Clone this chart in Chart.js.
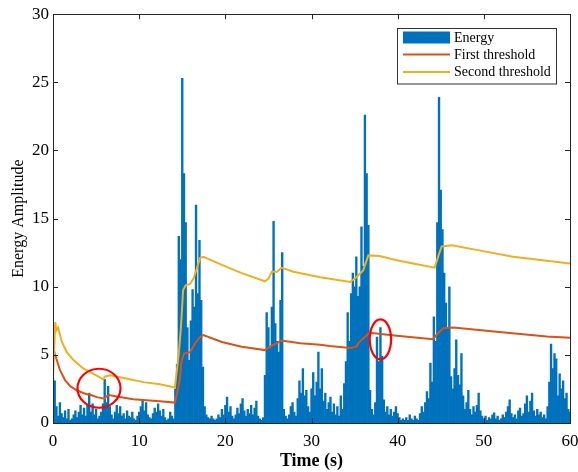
<!DOCTYPE html>
<html><head><meta charset="utf-8">
<script src="https://cdn.jsdelivr.net/npm/chart.js@4.4.1/dist/chart.umd.min.js"></script>
<style>html,body{margin:0;padding:0;background:#fff;}</style>
</head><body>
<canvas id="c" width="578" height="472" style="display:block;width:578px;height:472px"></canvas>
<script>
// ---- data ----
const sampleStep = 0.2; // seconds between energy samples, starting at t = 0
const energy = [
 3.3,3.1,1.2,0.5,1.5,   0.7,0.4,0.9,0.3,1.0,   0.2,0.3,0.6,0.9,0.4,   0.8,1.3,0.6,1.1,0.5,
 1.3,2.1,0.8,1.4,0.6,   1.0,0.3,0.5,0.8,1.4,   3.2,1.5,2.7,1.2,0.6,   0.3,0.8,1.3,0.7,1.2,
 0.5,0.7,0.3,0.9,0.5,   0.4,0.8,0.3,0.2,0.5,   0.8,1.2,1.7,0.9,1.5,   0.6,0.4,0.3,0.7,1.1,
 0.8,1.4,0.9,0.5,1.0,   0.4,0.2,0.3,0.8,0.5,   0.3,2.5,4.3,13.7,12.0, 25.3,18.3,14.7,7.0,4.6,
 7.5,9.8,8.5,16.0,9.5,  13.4,9.0,4.1,1.2,0.6,  0.4,0.3,0.5,0.3,0.2,   0.3,0.6,0.4,1.0,0.6,
 1.3,1.9,0.8,1.2,0.5,   0.3,0.6,1.1,0.7,1.4,   1.8,0.9,0.5,1.0,0.7,   1.3,0.6,1.1,1.6,0.5,
 0.3,0.2,0.4,3.5,8.1,   7.0,5.5,8.5,14.8,7.3,  6.0,5.2,9.0,12.5,1.0,  0.5,0.3,0.6,1.2,1.5,
 0.8,0.5,1.8,3.1,2.2,   4.0,2.0,2.4,1.2,0.8,   2.5,3.7,2.0,3.0,5.2,   2.5,4.0,1.6,2.2,1.0,
 1.5,1.9,0.8,1.4,0.6,   1.2,0.5,2.0,1.0,2.9,   4.5,8.1,6.0,9.5,11.0,  10.0,12.2,9.3,10.0,14.4,
 11.5,22.6,18.3,14.5,2.4, 1.0,0.6,1.5,6.3,4.5, 7.0,4.9,1.7,0.8,1.2,   0.6,1.0,0.5,0.8,1.2,
 0.7,0.4,0.2,0.3,0.2,   0.4,0.2,0.6,0.3,0.2,   0.5,0.3,0.2,0.7,1.2,   0.8,1.5,2.3,1.8,4.4,
 3.0,7.8,6.0,14.7,23.9, 17.1,14.2,11.0,8.8,7.0, 10.0,3.4,2.5,4.0,6.1,  3.5,2.8,5.1,2.0,1.0,
 1.5,2.4,1.0,0.6,1.2,   0.8,1.3,2.2,0.9,0.5,   0.3,0.5,0.2,0.4,0.3,   0.6,0.75,0.3,0.5,0.2,
 0.3,0.6,0.4,0.8,1.2,   1.7,0.7,0.4,0.6,0.3,   0.9,1.1,0.5,0.7,1.4,   2.0,0.8,1.6,2.2,0.9,
 0.5,1.0,0.6,0.8,0.4,   0.6,0.3,1.2,3.0,5.8,   4.0,5.1,4.7,2.0,3.6,   2.5,3.1,1.8,2.2,1.0,
 0.8
];
const firstT = [0,0.2,0.5,0.8,1.4,2.0,2.75,3.5,4.0,4.2,4.4,5.1,5.95,6.2,6.5,7.4,9.3,12.4,14.15,14.4,14.7,14.9,15.2,15.9,16.5,17.05,17.45,19.6,21.9,24.6,25.2,25.8,26.5,28.7,31.0,32.1,34.5,35.2,35.5,36.0,36.6,37.0,39.9,44.1,44.7,45.3,46.45,51.5,57.3,60];
const firstV = [5.6,5.1,4.5,3.9,3.15,2.7,2.4,2.2,2.1,2.15,2.05,1.9,1.78,1.95,2.05,1.95,1.75,1.6,1.5,2.2,3.15,4.5,5.1,5.2,5.85,6.3,6.45,5.95,5.6,5.35,5.6,5.8,6.05,5.85,5.75,5.65,5.5,5.6,5.9,6.2,6.55,6.6,6.4,6.15,6.6,6.95,7.0,6.7,6.35,6.25];
const secondT = [0,0.15,0.25,0.4,0.6,1.0,1.6,2.4,3.5,4.7,5.85,6.0,6.6,8.2,10.5,12.4,14.15,14.6,14.85,15.1,15.4,15.9,16.3,16.7,17.05,17.45,19.6,21.9,24.6,25.0,25.4,26.0,26.5,27.9,31.0,34.5,35.2,36.0,36.6,37.9,39.9,41.8,44.3,44.7,45.1,46.3,49.6,53.4,57.3,60];
const secondV = [3.3,5.5,7.4,6.8,7.0,6.0,5.2,4.6,4.0,3.6,3.2,3.4,3.5,3.3,3.0,2.85,2.6,5.1,7.05,9.75,10.1,10.2,10.6,11.35,12.1,12.2,11.6,11.0,10.4,10.6,11.1,11.1,11.4,11.1,10.7,10.35,10.7,11.2,12.3,12.25,11.95,11.7,11.4,12.2,12.95,13.05,12.65,12.2,11.9,11.7];
const xTicks = [0,10,20,30,40,50,60];
const yTicks = [0,5,10,15,20,25,30];
const seriesNames = ['Energy','First threshold','Second threshold'];
const markT = [5.34, 38.0];   // centres of the red marks (s)
const markV = [2.55, 6.14];   // centres of the red marks (amplitude)

// ---- styles ----
const colors = ['#0072BD','#D95319','#EDB120'];
const axisColor = '#262626';
const serif = '"Liberation Serif","Times New Roman",serif';
const markRadii = [[21.5,19.5],[10.7,20]];

const energyPts = energy.map((v,i)=>({x: +(i*sampleStep).toFixed(2), y: v}));
const firstPts = firstT.map((t,i)=>({x:t, y:firstV[i]}));
const secondPts = secondT.map((t,i)=>({x:t, y:secondV[i]}));

const framePlugin = {
  id:'frame',
  afterDatasetsDraw(chart){
    const {ctx, chartArea:a, scales:{x,y}} = chart;
    ctx.save();
    // red marks
    ctx.strokeStyle = '#FF0000'; ctx.lineWidth = 2.2;
    markT.forEach((t,i)=>{
      ctx.beginPath();
      ctx.ellipse(x.getPixelForValue(t), y.getPixelForValue(markV[i]), markRadii[i][0], markRadii[i][1], 0, 0, Math.PI*2);
      ctx.stroke();
    });
    // box
    ctx.strokeStyle = axisColor; ctx.lineWidth = 1;
    ctx.strokeRect(Math.round(a.left)+0.5, Math.round(a.top)+0.5, Math.round(a.right-a.left), Math.round(a.bottom-a.top));
    // inner ticks
    const tl = 5;
    ctx.beginPath();
    xTicks.forEach(v=>{
      const px = Math.round(x.getPixelForValue(v))+0.5;
      ctx.moveTo(px, a.bottom); ctx.lineTo(px, a.bottom-tl);
      ctx.moveTo(px, a.top); ctx.lineTo(px, a.top+tl);
    });
    yTicks.forEach(v=>{
      const py = Math.round(y.getPixelForValue(v))+0.5;
      ctx.moveTo(a.left, py); ctx.lineTo(a.left+tl, py);
      ctx.moveTo(a.right, py); ctx.lineTo(a.right-tl, py);
    });
    ctx.stroke();
    // legend
    const lx = 397, ly = 27.5, lw = 159, lh = 55.5;
    ctx.fillStyle = '#fff';
    ctx.fillRect(lx, ly, lw, lh);
    ctx.strokeStyle = '#333'; ctx.lineWidth = 1;
    ctx.strokeRect(Math.round(lx)+0.5, Math.round(ly)+0.5, lw, lh);
    const rows = [10, 27, 44.5];
    ctx.font = '14px ' + serif;
    ctx.textBaseline = 'middle'; ctx.textAlign = 'left';
    chart.data.datasets.forEach((ds,i)=>{
      const ry = ly + rows[i];
      if (i===0){
        ctx.fillStyle = ds.backgroundColor;
        ctx.fillRect(lx+6, ry-6, 47, 12);
      } else {
        ctx.strokeStyle = ds.borderColor; ctx.lineWidth = 2;
        ctx.beginPath(); ctx.moveTo(lx+6, ry); ctx.lineTo(lx+53, ry); ctx.stroke();
      }
      ctx.fillStyle = '#000';
      ctx.fillText(ds.label, lx+57, ry+0.5);
    });
    ctx.restore();
  }
};

new Chart(document.getElementById('c'), {
  type:'bar',
  data:{
    datasets:[
      {type:'bar', label:seriesNames[0], data:energyPts, backgroundColor:colors[0], borderWidth:0,
       barPercentage:1.0, categoryPercentage:1.0, order:3},
      {type:'line', label:seriesNames[1], data:firstPts, borderColor:colors[1], backgroundColor:colors[1],
       borderWidth:2, pointRadius:0, tension:0, fill:false, order:2},
      {type:'line', label:seriesNames[2], data:secondPts, borderColor:colors[2], backgroundColor:colors[2],
       borderWidth:2, pointRadius:0, tension:0, fill:false, order:1}
    ]
  },
  options:{
    responsive:false, animation:false, devicePixelRatio:1,
    layout:{padding:{left:0, right:0, top:14, bottom:0}},
    plugins:{legend:{display:false}, tooltip:{enabled:false}},
    scales:{
      x:{type:'linear', min:0, max:60, offset:false,
         grid:{display:false, drawTicks:false}, border:{display:false},
         afterBuildTicks:s=>{ s.ticks = xTicks.map(v=>({value:v})); },
         afterFit:s=>{ s.height = 49; s.paddingRight = 8; },
         ticks:{color:'#000', padding:8, maxRotation:0, font:{family:serif, size:17}},
         title:{display:true, text:'Time (s)', color:'#000', padding:{top:0,bottom:0},
                font:{family:serif, size:18, weight:'bold'}}
      },
      y:{type:'linear', min:0, max:30,
         grid:{display:false, drawTicks:false}, border:{display:false},
         afterBuildTicks:s=>{ s.ticks = yTicks.map(v=>({value:v})); },
         afterFit:s=>{ s.width = 53; },
         ticks:{color:'#000', padding:4, font:{family:serif, size:17}},
         title:{display:true, text:'Energy Amplitude', color:'#000', padding:{top:9,bottom:0},
                font:{family:serif, size:16}}
      }
    }
  },
  plugins:[framePlugin]
});
</script>
</body></html>
